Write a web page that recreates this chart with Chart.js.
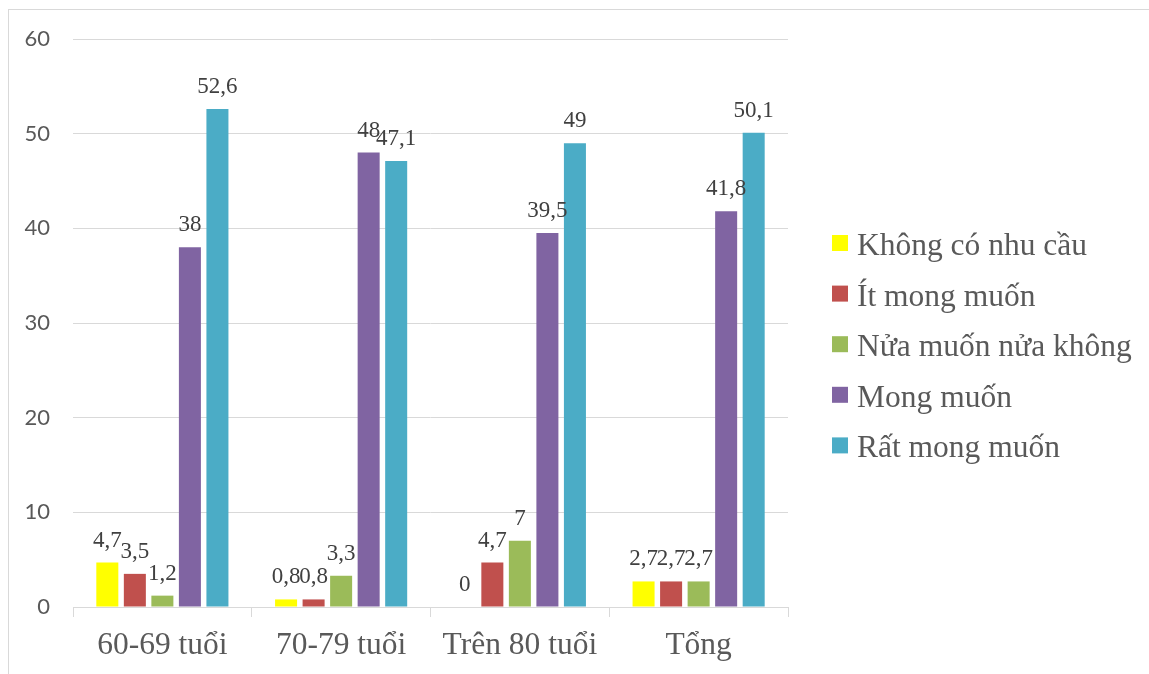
<!DOCTYPE html>
<html>
<head>
<meta charset="utf-8">
<script src="https://cdn.jsdelivr.net/npm/chart.js@4.4.1/dist/chart.umd.min.js"></script>
<style>
  html, body { margin: 0; padding: 0; background: #fff; }
  #wrap { position: relative; width: 1149px; height: 674px; overflow: hidden; }
  #frame { position: absolute; left: 8px; top: 9px; width: 1400px; height: 900px;
           border-left: 1px solid #d9d9d9; border-top: 1px solid #d9d9d9; }
  canvas { position: absolute; left: 0; top: 0; }
</style>
</head>
<body>
<div id="wrap">
  <div id="frame"></div>
  <canvas id="chart" width="1149" height="674"></canvas>
</div>
<script>
// Age groups and answer categories
const categories = ['60-69 tuổi', '70-79 tuổi', 'Trên 80 tuổi', 'Tổng'];
const seriesNames = ['Không có nhu cầu', 'Ít mong muốn', 'Nửa muốn nửa không', 'Mong muốn', 'Rất mong muốn'];
const seriesColors = ['#FFFF00', '#C0504D', '#9BBB59', '#8064A2', '#4BACC6'];

// Percentages per answer, one value per age group
const khongCoNhuCau = [4.7, 0.8, 0, 2.7];
const itMongMuon = [3.5, 0.8, 4.7, 2.7];
const nuaMuonNuaKhong = [1.2, 3.3, 7, 2.7];
const mongMuon = [38, 48, 39.5, 41.8];
const ratMongMuon = [52.6, 47.1, 49, 50.1];

const yTicks = [0, 10, 20, 30, 40, 50, 60];

const seriesValues = [khongCoNhuCau, itMongMuon, nuaMuonNuaKhong, mongMuon, ratMongMuon];

const GRID = '#d9d9d9';
const TEXT = '#595959';
const SERIF = '"Liberation Serif", "Times New Roman", serif';

// Value labels above every bar (decimal comma)
const valueLabels = {
  id: 'valueLabels',
  afterDatasetsDraw(chart) {
    const ctx = chart.ctx;
    ctx.save();
    ctx.font = '23px ' + SERIF;
    ctx.fillStyle = '#404040';
    ctx.textAlign = 'center';
    ctx.textBaseline = 'alphabetic';
    chart.data.datasets.forEach((ds, i) => {
      chart.getDatasetMeta(i).data.forEach((bar, j) => {
        const txt = String(ds.data[j]).replace('.', ',');
        ctx.fillText(txt, bar.x, bar.y - 16);
      });
    });
    ctx.restore();
  }
};

// Legend on the right, one entry per series
const sideLegend = {
  id: 'sideLegend',
  afterDraw(chart) {
    const ctx = chart.ctx;
    const x0 = chart.chartArea.right + 44;
    const y0 = 243;
    const step = 50.6;
    ctx.save();
    ctx.font = '31.5px ' + SERIF;
    ctx.textAlign = 'left';
    ctx.textBaseline = 'alphabetic';
    chart.data.datasets.forEach((ds, i) => {
      const cy = y0 + i * step;
      ctx.fillStyle = ds.backgroundColor;
      ctx.fillRect(x0, cy - 8, 16, 16);
      ctx.fillStyle = TEXT;
      ctx.fillText(ds.label, x0 + 25, cy + 12);
    });
    ctx.restore();
  }
};

const datasets = seriesNames.map((name, i) => ({
  label: name,
  data: seriesValues[i],
  backgroundColor: seriesColors[i],
  borderWidth: 0,
  categoryPercentage: 0.77,
  barPercentage: 0.8
}));

new Chart(document.getElementById('chart'), {
  type: 'bar',
  data: { labels: categories, datasets },
  options: {
    responsive: false,
    animation: false,
    layout: { padding: { top: 39, right: 361, left: 0, bottom: 0 } },
    plugins: { legend: { display: false }, tooltip: { enabled: false } },
    scales: {
      x: {
        afterFit(scale) { scale.height = 67; },
        border: { display: true, color: GRID, width: 1 },
        grid: { drawOnChartArea: false, drawTicks: true, tickLength: 10, color: GRID, offset: true },
        ticks: { color: TEXT, font: { family: SERIF, size: 31.5 }, padding: 10, maxRotation: 0 }
      },
      y: {
        min: 0,
        max: 60,
        afterFit(scale) { scale.width = 73; },
        afterBuildTicks(scale) { scale.ticks = yTicks.map(v => ({ value: v })); },
        border: { display: false },
        grid: { color: GRID, drawTicks: false, lineWidth: 1 },
        ticks: { color: TEXT, font: { family: 'Lato, "Liberation Sans", sans-serif', size: 22 }, padding: 23 }
      }
    }
  },
  plugins: [valueLabels, sideLegend]
});
</script>
</body>
</html>
